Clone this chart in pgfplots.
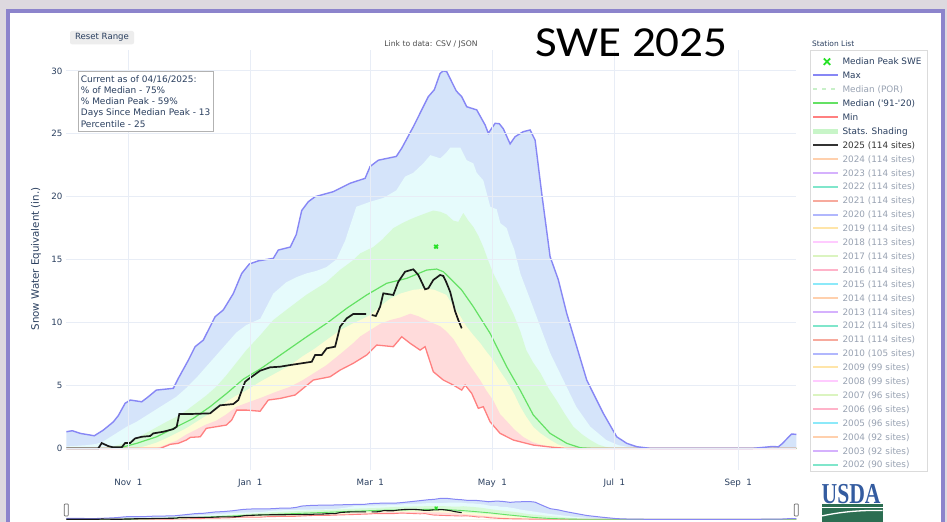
\documentclass[border=0pt]{standalone}
\usepackage{pgfplots}
\pgfplotsset{compat=1.18}
\usepackage{pgfplotstable}
\usepackage{fontspec}
\setmainfont{DejaVu Sans}
\newfontfamily\dv{DejaVu Sans}
\newfontfamily\carlito{Carlito}
\newfontfamily\lserif{Liberation Serif}

\definecolor{bgout}{RGB}{221,217,223}
\definecolor{framec}{RGB}{140,132,204}
\definecolor{txt}{RGB}{42,63,95}
\definecolor{txtoff}{RGB}{152,162,178}
\definecolor{gridc}{RGB}{232,237,246}
\definecolor{fBlue}{RGB}{213,228,250}
\definecolor{fCyan}{RGB}{230,251,252}
\definecolor{fGreen}{RGB}{215,250,215}
\definecolor{fYellow}{RGB}{253,252,214}
\definecolor{fRed}{RGB}{255,219,219}
\definecolor{lMax}{RGB}{135,135,245}
\definecolor{lMin}{RGB}{255,128,128}
\definecolor{lMed}{RGB}{100,225,100}
\definecolor{lMark}{RGB}{40,225,40}
\definecolor{lPOR}{RGB}{200,240,200}
\definecolor{lShade}{RGB}{200,245,200}
\definecolor{cA}{RGB}{255,208,173}
\definecolor{cB}{RGB}{213,177,253}
\definecolor{cC}{RGB}{128,230,203}
\definecolor{cD}{RGB}{247,170,157}
\definecolor{cE}{RGB}{177,183,253}
\definecolor{cF}{RGB}{255,229,169}
\definecolor{cG}{RGB}{255,203,255}
\definecolor{cH}{RGB}{219,244,192}
\definecolor{cI}{RGB}{255,179,201}
\definecolor{cJ}{RGB}{140,233,249}
\definecolor{usdablue}{RGB}{52,92,160}
\definecolor{usdagreen}{RGB}{44,110,82}

% ---------------- data (day of water year, Oct 1 = 0; SWE in inches)
\pgfplotstableread{
d v
0 1.32
3 1.40
7 1.19
14 1.0
18.5 1.45
23.5 2.1
26 2.6
29.4 3.58
32 3.84
37.7 3.7
41 4.1
45 4.63
53.5 4.77
56 5.56
61 7.0
64.4 8.08
68.5 8.6
74.4 10.46
78.5 11.0
83.5 12.3
87.7 13.9
91.5 14.65
96 14.9
103.5 15.1
106 15.76
112 16.0
115 17.0
117.7 18.9
121 19.6
124.4 20.0
133.5 20.4
141.9 21.07
149.4 21.46
151.9 22.4
156 22.9
165 23.2
167.7 23.85
173.5 25.56
177.7 26.9
181 27.95
184 28.5
186.9 29.8
188.5 30.0
190.2 29.94
192.5 29.2
195 28.4
197.7 27.95
200.2 27.15
205.2 26.9
209.4 25.7
211 25.04
214.4 25.83
216.5 25.8
218.5 25.4
221.9 24.2
224.4 24.77
228.5 25.17
231.9 25.3
234.4 24.5
237.7 20.27
241.9 15.23
246 13.4
250.2 10.73
255.2 8.08
260.2 5.43
263.5 4.37
268.5 2.78
275.2 0.92
280.2 0.40
285.2 0.13
292 0
343 0
350 0.1
353 0.15
356 0.12
357.7 0.34
361 0.87
362.7 1.14
365 1.11
}\tmax

\pgfplotstableread{
d v
0 0.15
10 0.25
15 0.35
18.5 0.55
22 0.9
26 1.3
30 1.7
35 2.1
40 2.6
45 3.1
50 3.6
55 4.1
60 4.8
65 5.6
70 6.5
75 7.4
80 8.3
85 9.2
90 9.8
97 10.3
103.5 12.3
110 13.2
115 13.6
120 13.9
125 14.1
130 14.4
135 15.0
139.4 16.5
145 19.2
152 19.6
158.5 19.9
165 20.5
169.4 21.6
173.5 21.9
178.5 22.65
182 23.3
187 23.05
190 23.5
192 23.9
197 23.9
200.2 22.9
203.5 22.65
205.2 21.9
208.5 21.3
212 19.2
215.2 19.0
217 17.9
220.2 17.5
222 16.6
224 15.8
227 13.9
232 11.8
237 9.67
242 7.55
248.5 5.43
255 3.3
262 1.72
270 0.66
276 0.25
282 0.08
290 0
365 0
}\tpninety

\pgfplotstableread{
d v
0 0
18 0
22 0.1
28 0.35
35 0.8
42 1.4
50 2.1
55 2.5
60 3.0
65 3.6
70 4.2
75 4.9
80 5.8
85 6.8
90 7.8
97 9.0
103.5 10.2
110 11.0
115 11.6
120 12.2
125 12.7
130 13.2
137 14.2
143 14.9
147 15.5
153.5 16.0
158 16.6
163.5 17.5
168 17.9
172 18.2
175 18.4
180 18.7
183.5 18.9
187 18.8
190 18.6
193.5 18.1
196 18.0
198.5 18.7
201 18.1
203.5 17.6
206 16.9
208.5 16.0
211 14.9
213.5 13.9
216 13.1
218.5 12.3
221 11.5
223.5 10.7
227 9.3
230 7.8
233.5 6.8
237 6.0
241 4.8
245 3.84
249 2.8
253.5 1.72
258 1.1
262 0.66
266 0.3
270 0.1
275 0
365 0
}\tpseventy

\pgfplotstableread{
d v
0 0
35 0
40 0.2
45 0.45
50 0.8
55 1.2
60 1.6
65 2.1
70 2.6
75 3.1
80 3.7
85 4.2
90 4.6
97 5.3
105 6.0
112 6.6
118 7.3
124 7.9
130 8.6
137 9.4
143 9.9
147 10.2
152 10.6
157 11.3
162 11.9
167 12.3
173.5 12.6
180 12.7
184 12.6
187 12.4
190 12.2
193.5 11.3
197 10.5
200 9.7
203.5 9.0
207 8.35
210 7.7
213.5 7.0
217 6.1
220 5.4
224 4.3
227 3.3
230 2.5
233.5 1.7
237 1.2
242 0.66
246 0.3
250 0.1
254 0
365 0
}\tpthirty

\pgfplotstableread{
d v
0 0
45 0
50 0.3
55 0.6
60 1.1
65 1.5
70 1.9
75 2.2
80 2.7
85 3.3
90 3.6
97 4.0
105 4.5
112 4.9
118 5.4
124 6.0
130 6.6
137 7.5
143 8.3
147 8.9
152 9.4
157 9.9
162 10.2
167 10.4
172 10.7
176 10.5
180 10.2
184 9.9
187 9.7
190 9.3
193.5 8.7
197 7.8
200 7.0
203.5 6.2
207 5.4
210 4.6
213.5 3.8
217 2.7
220 2.2
224 1.5
228.5 0.9
233 0.5
237 0.3
243 0.1
248 0.02
252 0
365 0
}\tpten

\pgfplotstableread{
d v
0 0
47 0
52 0.32
56 0.4
60 0.66
62 0.87
67 0.92
70 1.59
75 1.72
80 1.85
82.7 2.25
85.2 3.04
90 3.04
96.9 2.95
101 3.84
107 3.97
114.4 4.24
123.5 5.43
131.9 5.69
136.9 6.22
143.5 6.76
150.2 7.42
155.2 8.21
163.5 8.08
167.7 8.87
171.9 8.35
176.9 7.81
179.4 8.08
183.5 6.09
188.5 5.43
193.5 5.03
197.7 4.63
199.4 5.03
202.7 4.37
206 3.18
208.5 3.31
211.9 2.11
216.9 1.19
223.5 0.66
233.5 0.26
243.5 0.08
250 0
365 0
}\tmin

\pgfplotstableread{
d v
0 0
24 0
27 0.05
35.2 0.4
45.2 0.92
55.2 1.72
63.5 2.38
71.9 3.31
80.2 4.37
88.5 5.5
96.9 6.3
106.9 7.4
120.2 8.87
130.2 9.94
140.2 11.13
150.2 12.19
160.2 13.12
170.2 13.51
180.2 14.17
185.2 14.25
188.5 14.04
191.9 13.51
197.7 12.58
203.5 11.26
211.9 9.14
220.2 6.49
226.9 4.63
233.5 2.65
241.9 1.19
250.2 0.4
256.9 0.05
262 0
365 0
}\tmed

\pgfplotstableread{
d v
0 0
16 0
17.7 0.42
21 0.18
23.5 0.08
27.7 0.08
29.4 0.42
31.9 0.42
34.4 0.79
37.7 0.92
41.9 0.98
43.5 1.19
48.5 1.32
53.5 1.53
55.2 1.72
56.5 2.73
61.9 2.73
71.9 2.78
73.5 2.99
76.9 3.42
83.5 3.52
86 3.84
87.5 4.5
89.4 5.29
91 5.5
92.7 5.69
96.9 6.17
101.9 6.44
106.9 6.49
111.9 6.62
122.7 6.88
124.4 7.42
127.7 7.42
130.2 7.95
134.4 8.08
136.9 9.67
140.2 10.33
143.5 10.68
149.9 10.68
}\tblkA

\pgfplotstableread{
d v
152.7 10.6
154.8 10.52
156.9 11.26
158.5 12.32
163.5 12.19
166 13.24
169.4 14.04
173.5 14.23
176 13.78
179.4 12.64
181 12.72
183.5 13.38
186.9 13.78
188.5 13.7
190 13.2
191.9 12.45
194.4 10.9
196 10.2
197.7 9.54
}\tblkB

\begin{document}
\begin{tikzpicture}
\begin{scope}[x=1bp,y=1bp]
% page background and frame
\fill[bgout] (0,0) rectangle (947,522);
\fill[framec] (6,0) rectangle (945,513);
\fill[white] (10,0) rectangle (941,509.3);

% reset range button
\fill[rounded corners=2bp, black!7] (70,477.7) rectangle (134,491);
\node[inner sep=0, text=txt, font=\fontsize{8.6}{10}\selectfont] at (102,484.3) {Reset Range};
% link to data
\node[inner sep=0, text=black!70, font=\fontsize{7.7}{9}\selectfont] at (431,478) {Link to data: CSV / JSON};

% y axis title
\node[rotate=90, inner sep=0, text=txt, font=\fontsize{10.3}{12}\selectfont] at (36,263) {Snow Water Equivalent (in.)};
\end{scope}

% ---------------- main chart
\begin{axis}[
  at={(66.3bp,52bp)}, anchor=south west,
  scale only axis, width=730bp, height=420bp,
  xmin=0, xmax=365, ymin=-1.72, ymax=31.66,
  axis line style={draw=none},
  major tick length=0pt,
  axis on top,
  xtick={31,92,152,213,274,336},
  xticklabels={Nov\ \ 1,Jan\ \ 1,Mar\ \ 1,May\ \ 1,Jul\ \ 1,Sep\ \ 1},
  ytick={0,5,10,15,20,25,30},
  grid=major, major grid style={draw=gridc, line width=0.9bp},
  ticklabel style={font=\fontsize{8.7}{10}\selectfont, text=txt},
  xticklabel style={anchor=north, inner sep=0pt, yshift=-8.5bp},
  yticklabel style={anchor=east, inner sep=0pt, xshift=-3.6bp},
  /pgf/number format/assume math mode=true,
]
\addplot[fill=fBlue, draw=none] table[x=d,y=v]{\tmax} \closedcycle;
\addplot[fill=fCyan, draw=none] table[x=d,y=v]{\tpninety} \closedcycle;
\addplot[fill=fGreen, draw=none] table[x=d,y=v]{\tpseventy} \closedcycle;
\addplot[fill=fYellow, draw=none] table[x=d,y=v]{\tpthirty} \closedcycle;
\addplot[fill=fRed, draw=none] table[x=d,y=v]{\tpten} \closedcycle;
\addplot[fill=white, draw=none] table[x=d,y=v]{\tmin} \closedcycle;
\addplot[lMin, line width=1.3bp] table[x=d,y=v]{\tmin};
\addplot[lMed, line width=1.2bp] table[x=d,y=v]{\tmed};
\addplot[lMax, line width=1.4bp] table[x=d,y=v]{\tmax};
\addplot[black!90, line width=1.7bp] table[x=d,y=v]{\tblkA};
\addplot[black!90, line width=1.7bp] table[x=d,y=v]{\tblkB};
\addplot[only marks, mark=x, mark size=2.6bp, lMark, line width=1.8bp] coordinates {(184.9,16.03)};
\end{axis}

% ---------------- range slider
\begin{axis}[
  at={(66.3bp,0bp)}, anchor=south west,
  scale only axis, width=730bp, height=25bp,
  xmin=0, xmax=365, ymin=-3.857, ymax=31.857,
  axis line style={draw=none}, ticks=none,
]
\addplot[fill=fBlue, draw=none] table[x=d,y=v]{\tmax} \closedcycle;
\addplot[fill=fCyan, draw=none] table[x=d,y=v]{\tpninety} \closedcycle;
\addplot[fill=fGreen, draw=none] table[x=d,y=v]{\tpseventy} \closedcycle;
\addplot[fill=fYellow, draw=none] table[x=d,y=v]{\tpthirty} \closedcycle;
\addplot[fill=fRed, draw=none] table[x=d,y=v]{\tpten} \closedcycle;
\addplot[fill=white, draw=none] table[x=d,y=v]{\tmin} \closedcycle;
\addplot[lMin, line width=0.9bp] table[x=d,y=v]{\tmin};
\addplot[lMed, line width=0.9bp] table[x=d,y=v]{\tmed};
\addplot[lMax, line width=1bp] table[x=d,y=v]{\tmax};
\addplot[black!90, line width=1.1bp] table[x=d,y=v]{\tblkA};
\addplot[black!90, line width=1.1bp] table[x=d,y=v]{\tblkB};
\addplot[only marks, mark=x, mark size=2bp, lMark, line width=1.3bp] coordinates {(184.9,16.03)};
\end{axis}

\begin{scope}[x=1bp,y=1bp]
% title
\node[anchor=base west, inner sep=0, font=\carlito\fontsize{43}{46}\selectfont, xscale=1.1] at (535,465.3) {SWE 2025};

% slider handles
\draw[black!60, fill=white, line width=0.7bp, rounded corners=0.8bp] (64.3,6) rectangle (68.3,18);
\draw[black!60, fill=white, line width=0.7bp, rounded corners=0.8bp] (794.3,6) rectangle (798.3,18);

% ---------------- info box
\draw[black!30, fill=white, line width=0.9bp] (78.3,451) rectangle (213.3,391);
\begin{scope}[every node/.style={anchor=base west, inner sep=0, text=txt, font=\fontsize{9}{11}\selectfont}]
\node at (80.7,439.7) {Current as of 04/16/2025:};
\node at (80.7,428.5) {\% of Median - 75\%};
\node at (80.7,417.2) {\% Median Peak - 59\%};
\node at (80.7,406) {Days Since Median Peak - 13};
\node at (80.7,394.7) {Percentile - 25};
\end{scope}

% ---------------- legend
\node[anchor=base west, inner sep=0, text=txt, font=\fontsize{7.5}{9}\selectfont] at (812,475) {Station List};
\draw[black!14, fill=white, line width=0.9bp] (810.3,472) rectangle (927.7,50.3);
\begin{scope}[every node/.style={anchor=base west, inner sep=0, font=\dv\fontsize{8.9}{10}\selectfont}]
\draw[lMark, line width=1.7bp] (823.8,457.1) -- (830.2,463.5) (823.8,463.5) -- (830.2,457.1);
\node[text=txt] at (842.3,457.1) {Median Peak SWE};
\draw[lMax, line width=2bp] (813,446.5) -- (838,446.5);
\node[text=txt] at (842.3,443.2) {Max};
\draw[lPOR, line width=2bp, dash pattern=on 4bp off 5bp] (813,432.5) -- (838,432.5);
\node[text=txtoff] at (842.3,429.3) {Median (POR)};
\draw[lMed, line width=2bp] (813,418.5) -- (838,418.5);
\node[text=txt] at (842.3,415.4) {Median ('91-'20)};
\draw[lMin, line width=2bp] (813,404.5) -- (838,404.5);
\node[text=txt] at (842.3,401.5) {Min};
\draw[lShade, line width=5bp] (813,390.8) -- (838,390.8);
\node[text=txt] at (842.3,387.6) {Stats. Shading};
\draw[black!80, line width=2.4bp] (813,376.9) -- (838,376.9);
\node[text=black!80] at (842.3,373.7) {2025 (114 sites)};
\foreach \yr/\st/\col [count=\i from 7] in {2024/114/cA,2023/114/cB,2022/114/cC,2021/114/cD,2020/114/cE,2019/114/cF,2018/113/cG,2017/114/cH,2016/114/cI,2015/114/cJ,2014/114/cA,2013/114/cB,2012/114/cC,2011/114/cD,2010/105/cE,2009/99/cF,2008/99/cG,2007/96/cH,2006/96/cI,2005/96/cJ,2004/92/cA,2003/92/cB,2002/90/cC}{
  \pgfmathsetmacro\Y{460.3-13.9*\i}
  \pgfmathsetmacro\B{\Y-3.2}
  \draw[\col, line width=2bp] (813,\Y) -- (838,\Y);
  \node[text=txtoff] at (842.3,\B) {\yr\ (\st\ sites)};
}
\end{scope}

% ---------------- USDA logo
\node[anchor=base west, inner sep=0, text=usdablue, font=\lserif\bfseries\fontsize{29}{30}\selectfont, xscale=0.75] at (821.5,18.8) {USDA};
\fill[usdagreen] (821.7,17.5) rectangle (882.7,0);
\draw[white, line width=1.1bp] (821.7,14.5) -- (882.7,14.5);
\draw[white, line width=1.3bp] (821.7,6) .. controls (840,10) and (860,12) .. (882.7,11.5);
\end{scope}
\end{tikzpicture}
\end{document}
